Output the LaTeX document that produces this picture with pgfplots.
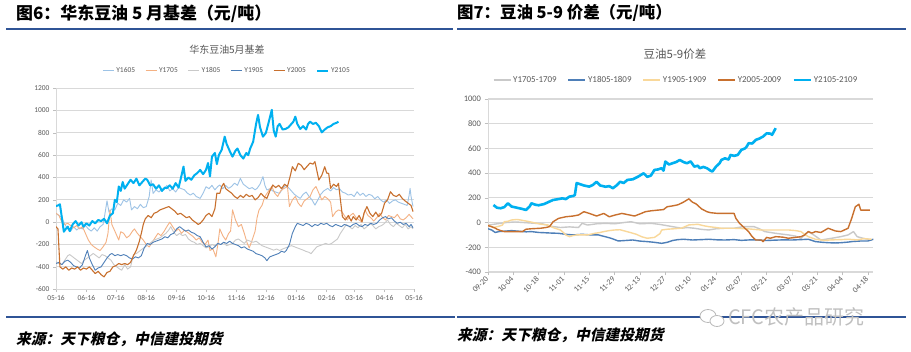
\documentclass[border=0pt]{standalone}
\usepackage{fontspec}
\setmainfont{Carlito}
\newfontfamily\cjk{Noto Sans CJK SC}
\newfontfamily\cjkit{Noto Sans CJK SC}[FakeSlant=0.22]
\usepackage{pgfplots}
\pgfplotsset{compat=1.18}
\definecolor{cGrid}{HTML}{D9D9D9}
\definecolor{cTick}{HTML}{BFBFBF}
\definecolor{cTxt}{HTML}{595959}
\definecolor{cRule}{HTML}{2F5496}
\definecolor{cA}{HTML}{9DC3E6}
\definecolor{cB}{HTML}{F4B183}
\definecolor{cC}{HTML}{C9C9C9}
\definecolor{cD}{HTML}{4E7FB8}
\definecolor{cE}{HTML}{C8702E}
\definecolor{cF}{HTML}{00B0F0}
\definecolor{cW}{HTML}{F9D89A}
\begin{document}
\begin{tikzpicture}
\useasboundingbox (0bp,0bp) rectangle (911bp,352bp);
\fill[white] (0bp,0bp) rectangle (911bp,352bp);
% rules
\draw[cRule, line width=2bp] (6bp,323bp) -- (453bp,323bp);
\draw[cRule, line width=2bp] (457bp,323bp) -- (906bp,323bp);
\draw[cRule, line width=2bp] (6bp,34.5bp) -- (455bp,34.5bp);
\draw[cRule, line width=2bp] (457bp,34.5bp) -- (906bp,34.5bp);
% headers
\node[anchor=west, inner sep=0pt, font=\cjk\bfseries\fontsize{17}{18}\selectfont] at (16bp,338bp) {图6：华东豆油 5 月基差（元/吨）};
\node[anchor=west, inner sep=0pt, font=\cjk\bfseries\fontsize{16.5}{18}\selectfont] at (457bp,339bp) {图7：豆油 5-9 价差（元/吨）};
% footers
\node[anchor=west, inner sep=0pt, font=\cjkit\bfseries\fontsize{14.8}{16}\selectfont] at (16bp,13bp) {来源：天下粮仓，中信建投期货};
\node[anchor=west, inner sep=0pt, font=\cjkit\bfseries\fontsize{14.8}{16}\selectfont] at (457bp,17bp) {来源：天下粮仓，中信建投期货};
% chart titles
\node[inner sep=0pt, text=cTxt, font=\cjk\fontsize{10}{11}\selectfont] at (227bp,302bp) {华东豆油5月基差};
\node[inner sep=0pt, text=cTxt, font=\cjk\fontsize{11.5}{12}\selectfont] at (675bp,298bp) {豆油5-9价差};

%% LEFT CHART
\begin{axis}[
 at={(56bp,62.8bp)}, anchor=south west, scale only axis, width=358bp, height=201bp,
 xmin=0, xmax=365, ymin=-600, ymax=1200,
 ytick={-600,-400,...,1200},
 xtick={0,31,61,92,123,153,184,214,245,276,304,335,365},
 xticklabels={05-16,06-16,07-16,08-16,09-16,10-16,11-16,12-16,01-16,02-16,03-16,04-16,05-16},
 axis x line*=bottom, axis y line*=left,
 axis line style={draw=cGrid, line width=0.8bp, -},
 ymajorgrids, major grid style={draw=cGrid, line width=0.8bp},
 tick style={draw=cTick, line width=0.6bp},
 major tick length=3bp, tick align=outside,
 ticklabel style={font=\fontsize{7.5}{8}\selectfont, text=cTxt},
 /pgf/number format/assume math mode=true,
 /pgf/number format/1000 sep={},
 legend style={at={(0.478,1.086)}, anchor=center, draw=none, fill=none,
   font=\fontsize{7.5}{8}\selectfont, text=cTxt, legend columns=6,
   /tikz/every even column/.append style={column sep=8bp}},
 legend image code/.code={\draw[#1] (0bp,0bp) -- (11bp,0bp);},
 every axis plot/.append style={line join=round, mark=none},
]
\addplot[cA, line width=0.9bp] coordinates {(0,80) (3,60) (6,40) (9,-20) (12,-60) (15,-80) (18,-40) (21,-70) (24,-50) (27,-60) (30,-30) (33,-60) (36,-80) (39,-50) (42,-80) (45,-40) (48,-20) (50,80) (52,192) (54,90) (57,120) (60,110) (63,170) (66,150) (69,200) (72,180) (75,213) (77,110) (80,140) (83,120) (86,160) (89,130) (92,140) (95,230) (97,378) (99,258) (102,290) (105,270) (108,300) (110,290) (113,330) (116,280) (119,300) (122,270) (125,310) (128,300) (131,290) (134,260) (137,243) (140,260) (143,230) (147,213) (150,260) (153,318) (156,300) (159,330) (162,290) (165,320) (167,333) (170,300) (173,330) (176,303) (179,320) (182,350) (185,330) (188,393) (191,340) (194,320) (197,300) (200,310) (203,290) (205,303) (208,340) (211,408) (213,330) (215,288) (218,300) (221,280) (224,270) (228,258) (231,300) (234,330) (237,310) (240,280) (243,250) (246,230) (249,213) (252,250) (255,270) (258,230) (261,200) (264,153) (267,200) (270,250) (273,280) (277,303) (280,280) (283,310) (286,290) (289,300) (292,270) (295,260) (298,243) (301,250) (304,230) (307,273) (310,240) (313,260) (316,230) (319,250) (322,240) (325,210) (328,230) (331,200) (334,180) (337,200) (340,168) (343,190) (346,200) (349,180) (352,170) (355,160) (358,150) (360,240) (361,303) (362,230) (364,140)};
\addlegendentry{Y1605}
\addplot[cB, line width=0.9bp] coordinates {(0,80) (3,60) (6,0) (9,-20) (12,-10) (15,-30) (18,-50) (21,-30) (24,-60) (27,-40) (30,-100) (33,-160) (36,-200) (39,-222) (42,-240) (45,-253) (48,-220) (51,-180) (53,-100) (55,110) (57,-22) (60,-80) (62,-120) (64,-160) (66,-85) (69,-100) (72,-140) (75,-120) (78,-80) (80,-60) (83,-100) (86,-130) (89,-160) (92,-200) (95,-222) (98,-180) (101,-140) (104,-100) (107,-120) (110,-85) (113,-40) (116,0) (119,-40) (122,-80) (125,-60) (128,-100) (131,-70) (134,-90) (137,-110) (140,-130) (143,-160) (146,-140) (149,-180) (152,-200) (155,-160) (157,-253) (160,-240) (163,-310) (165,-200) (167,-60) (170,-120) (173,-160) (176,-100) (178,-80) (180,110) (183,20) (186,-40) (189,-20) (192,-100) (195,-190) (197,-230) (200,-160) (203,-80) (205,40) (207,110) (210,150) (213,230) (216,270) (220,320) (223,260) (226,230) (229,280) (232,300) (236,318) (238,140) (241,200) (244,230) (247,170) (250,140) (253,190) (256,210) (259,230) (262,290) (265,320) (268,260) (271,200) (274,230) (277,210) (280,180) (282,50) (285,90) (288,110) (291,100) (294,60) (297,20) (300,60) (303,80) (306,40) (309,20) (312,0) (315,110) (318,60) (321,40) (324,10) (327,40) (330,80) (333,40) (336,20) (339,60) (342,50) (345,40) (348,70) (351,30) (354,20) (357,40) (360,70) (364,30)};
\addlegendentry{Y1705}
\addplot[cC, line width=0.9bp] coordinates {(0,-355) (3,-370) (6,-380) (9,-340) (12,-300) (14,-290) (17,-310) (20,-330) (23,-350) (26,-370) (29,-340) (32,-320) (35,-300) (38,-280) (41,-300) (44,-320) (47,-290) (50,-300) (53,-320) (56,-340) (59,-380) (62,-400) (65,-420) (67,-430) (70,-380) (73,-420) (76,-400) (79,-290) (82,-280) (85,-260) (88,-240) (91,-222) (94,-200) (97,-180) (100,-160) (103,-150) (106,-140) (109,-120) (112,-100) (115,-70) (117,-40) (120,-90) (123,-120) (126,-100) (129,-120) (132,-110) (135,-150) (138,-170) (141,-180) (144,-200) (147,-190) (150,-210) (153,-230) (156,-220) (159,-200) (162,-210) (165,-190) (168,-200) (171,-180) (174,-210) (177,-200) (180,-190) (183,-160) (186,-150) (189,-170) (192,-190) (195,-160) (198,-170) (201,-180) (204,-170) (207,-190) (210,-210) (213,-220) (216,-230) (219,-240) (222,-250) (225,-240) (228,-253) (231,-240) (234,-230) (237,-220) (240,-210) (243,-220) (246,-230) (249,-240) (252,-250) (255,-262) (258,-270) (260,-282) (263,-250) (266,-220) (269,-210) (272,-200) (275,-190) (278,-200) (281,-190) (284,-170) (287,-150) (290,-100) (293,-60) (296,-20) (299,-40) (302,-60) (305,-30) (308,-50) (311,-20) (314,-60) (317,-40) (320,-10) (323,-30) (326,-60) (329,-40) (332,-30) (335,-10) (338,20) (341,-20) (344,-40) (347,-10) (350,-30) (353,-50) (356,-20) (359,-60) (362,-40) (364,-60)};
\addlegendentry{Y1805}
\addplot[cD, line width=0.9bp] coordinates {(0,-370) (3,-360) (6,-380) (9,-350) (12,-340) (15,-360) (18,-390) (21,-400) (24,-410) (27,-380) (30,-300) (32,-253) (34,-320) (37,-380) (40,-430) (43,-410) (46,-400) (49,-360) (52,-320) (55,-290) (57,-280) (60,-300) (63,-290) (66,-300) (69,-290) (72,-300) (75,-320) (78,-330) (81,-310) (84,-320) (87,-300) (90,-230) (93,-190) (96,-200) (99,-180) (102,-170) (105,-160) (108,-150) (111,-130) (114,-140) (117,-110) (120,-100) (123,-60) (126,-40) (129,-60) (132,-80) (135,-70) (138,-90) (141,-100) (144,-120) (147,-130) (150,-180) (153,-222) (156,-210) (159,-240) (162,-220) (165,-190) (168,-200) (171,-180) (174,-190) (177,-170) (180,-190) (183,-200) (186,-210) (189,-230) (192,-220) (195,-240) (198,-250) (201,-260) (204,-282) (207,-290) (210,-300) (213,-320) (215,-345) (218,-310) (221,-300) (224,-290) (227,-280) (230,-260) (233,-270) (235,-250) (238,-200) (241,-100) (244,-40) (246,-10) (249,-20) (252,-30) (255,-10) (258,-20) (261,-40) (264,-20) (267,-30) (270,-10) (273,-20) (276,-10) (279,-30) (282,-40) (285,-20) (288,-30) (291,-40) (294,-20) (297,-30) (300,-40) (303,-20) (306,-10) (309,-30) (312,-40) (315,-20) (318,-30) (321,-10) (324,-20) (327,-10) (330,20) (333,40) (336,50) (339,30) (342,40) (345,10) (348,-10) (351,0) (354,-20) (357,-10) (360,-40) (362,-20) (364,-50)};
\addlegendentry{Y1905}
\addplot[cE, line width=1.1bp] coordinates {(0,-40) (2,-60) (4,-400) (7,-420) (10,-400) (13,-430) (16,-410) (19,-420) (22,-400) (25,-430) (28,-410) (31,-420) (34,-400) (37,-430) (40,-460) (43,-440) (46,-470) (49,-490) (52,-450) (55,-440) (58,-400) (61,-390) (64,-370) (67,-380) (70,-370) (73,-380) (76,-360) (79,-300) (82,-250) (85,-170) (87,-100) (89,-20) (91,30) (94,60) (97,40) (100,80) (103,90) (106,110) (109,120) (112,130) (115,140) (118,120) (121,100) (124,70) (127,80) (130,60) (133,40) (136,50) (139,20) (142,0) (145,-20) (147,-10) (150,20) (153,60) (156,80) (159,50) (162,120) (164,260) (167,258) (169,320) (171,348) (173,300) (176,280) (179,260) (182,230) (185,213) (188,240) (191,220) (194,250) (197,230) (200,240) (203,200) (206,220) (209,258) (212,230) (215,213) (218,280) (221,333) (224,310) (227,330) (230,300) (233,340) (236,320) (239,420) (241,497) (244,460) (247,527) (250,510) (253,470) (256,500) (259,530) (262,520) (264,542) (266,460) (268,378) (271,420) (274,497) (276,440) (278,437) (280,303) (283,340) (286,320) (288,348) (290,200) (292,50) (295,20) (298,60) (301,10) (303,50) (306,20) (309,60) (312,5) (314,80) (317,140) (320,80) (323,50) (326,90) (329,50) (332,80) (335,170) (338,200) (341,273) (344,240) (347,230) (350,250) (353,213) (356,190) (359,170) (362,150) (364,95)};
\addlegendentry{Y2005}
\addplot[cF, line width=2bp] coordinates {(0,145) (2,150) (4,160) (6,40) (8,-85) (10,-60) (12,-40) (14,-80) (17,-20) (20,10) (23,-30) (26,0) (28,-40) (31,-10) (34,-30) (37,10) (40,-10) (43,20) (46,10) (49,30) (52,-10) (55,60) (58,80) (60,200) (62,180) (64,320) (66,280) (68,360) (70,300) (73,340) (76,380) (79,350) (82,390) (85,330) (88,360) (91,390) (93,380) (96,330) (99,340) (102,300) (105,330) (108,280) (111,310) (113,305) (116,330) (119,300) (122,350) (125,310) (128,420) (130,498) (132,370) (135,400) (138,380) (141,420) (144,440) (147,468) (150,430) (153,470) (155,530) (157,410) (159,587) (162,620) (164,520) (166,600) (169,650) (172,766) (174,700) (177,640) (180,587) (183,640) (185,660) (188,600) (191,570) (194,620) (196,600) (198,660) (201,720) (204,880) (206,961) (208,850) (211,766) (214,800) (217,900) (220,1006) (222,820) (224,766) (226,860) (228,880) (231,830) (234,835) (237,850) (240,880) (242,900) (244,945) (246,880) (249,835) (252,860) (255,830) (257,880) (259,900) (262,880) (265,890) (268,860) (271,805) (274,830) (277,850) (280,860) (283,880) (286,890) (288,900)};
\addlegendentry{Y2105}
\end{axis}

%% RIGHT CHART
\begin{axis}[
 at={(488bp,80bp)}, anchor=south west, scale only axis, width=385.4bp, height=173bp,
 xmin=0, xmax=213, ymin=-400, ymax=1000,
 ytick={-400,-200,...,1000},
 xtick={0,14,...,210},
 xticklabels={09-20,10-04,10-18,11-01,11-15,11-29,12-13,12-27,01-10,01-24,02-07,02-21,03-07,03-21,04-04,04-18},
 axis x line*=bottom, axis y line*=left,
 axis line style={draw=cGrid, line width=1bp, -},
 ymajorgrids, major grid style={draw=cGrid, line width=1.2bp},
 tick style={draw=cTick, line width=0.7bp},
 major tick length=3.5bp, tick align=outside,
 ticklabel style={font=\fontsize{8.5}{9}\selectfont, text=cTxt},
 xticklabel style={font=\fontsize{8}{9}\selectfont, rotate=45, anchor=east, xshift=1bp, yshift=-1bp},
 /pgf/number format/assume math mode=true,
 /pgf/number format/1000 sep={},
 legend style={at={(0.488,1.11)}, anchor=center, draw=none, fill=none,
   font=\fontsize{9}{10}\selectfont, text=cTxt, legend columns=5,
   /tikz/every even column/.append style={column sep=9bp}},
 legend image code/.code={\draw[#1] (0bp,0bp) -- (17bp,0bp);},
 every axis plot/.append style={line join=round, mark=none},
]
\addplot[cC, line width=1.4bp] coordinates {(0,-20) (5,-10) (10,0) (15,5) (20,0) (25,-5) (30,-10) (35,-30) (40,-40) (45,-35) (50,-40) (52,-6) (55,-20) (60,-10) (65,-6) (70,-10) (75,0) (79,7) (84,-10) (90,-6) (95,-15) (102,-33) (107,-46) (110,-40) (114,-46) (118,-55) (122,-60) (126,-50) (131,-46) (136,-46) (141,-33) (147,-33) (150,-50) (153,-73) (159,-87) (166,-100) (170,-110) (173,-127) (177,-73) (180,-100) (184,-141) (190,-127) (195,-114) (199,-100) (202,-73) (204,-114) (208,-130) (212,-141)};
\addlegendentry{Y1705-1709}
\addplot[cD, line width=1.4bp] coordinates {(0,-50) (2,-60) (4,-80) (6,-73) (9,-70) (13,-65) (17,-70) (21,-75) (24,-73) (28,-80) (31,-82) (35,-85) (39,-87) (43,-95) (47,-100) (52,-95) (57,-100) (61,-100) (65,-115) (68,-127) (72,-149) (76,-145) (80,-141) (84,-150) (88,-154) (92,-160) (96,-168) (99,-160) (102,-145) (105,-138) (108,-135) (113,-141) (118,-138) (122,-135) (127,-140) (131,-141) (136,-138) (140,-144) (145,-140) (149,-141) (154,-145) (159,-142) (163,-140) (168,-141) (173,-138) (177,-135) (181,-154) (185,-160) (188,-163) (192,-165) (195,-163) (199,-158) (201,-154) (206,-149) (210,-149) (213,-135)};
\addlegendentry{Y1805-1809}
\addplot[cW, line width=1.4bp] coordinates {(0,-20) (3,-40) (6,-30) (8,-20) (9,7) (11,10) (13,21) (16,25) (18,21) (20,15) (22,10) (25,0) (27,-6) (30,-15) (33,-19) (35,-35) (37,-46) (40,-60) (42,-85) (43,-100) (45,-114) (47,-105) (49,-100) (52,-100) (55,-100) (59,-87) (62,-80) (64,-73) (67,-65) (70,-60) (73,-58) (76,-70) (79,-82) (82,-95) (85,-115) (88,-127) (92,-120) (95,-90) (96,-60) (99,-54) (103,-50) (107,-45) (111,-19) (116,-14) (119,-25) (122,-33) (126,-40) (129,-46) (136,-46) (143,-50) (151,-60) (159,-60) (166,-60) (170,-65) (173,-73) (175,-95) (177,-114) (181,-135) (186,-144) (190,-140) (195,-138) (199,-135) (204,-140) (208,-130) (212,-135)};
\addlegendentry{Y1905-1909}
\addplot[cE, line width=1.4bp] coordinates {(0,-25) (2,-33) (4,-45) (5,-54) (7,-65) (9,-73) (12,-73) (15,-73) (18,-73) (19,-73) (21,-54) (24,-50) (29,-46) (32,-40) (34,-33) (36,7) (39,34) (43,47) (47,53) (50,61) (53,88) (56,74) (60,53) (64,74) (67,47) (70,60) (74,74) (77,65) (81,53) (84,70) (87,88) (90,95) (94,101) (97,105) (99,128) (102,135) (105,144) (108,165) (111,192) (113,165) (115,151) (118,111) (121,88) (123,80) (127,74) (131,74) (136,74) (137,34) (139,-6) (141,-33) (144,-73) (146,-114) (148,-141) (151,-141) (152,-154) (154,-120) (156,-127) (159,-114) (163,-118) (166,-127) (170,-120) (173,-114) (175,-100) (177,-73) (179,-85) (181,-73) (184,-80) (188,-46) (192,-68) (195,-73) (199,-46) (201,34) (203,128) (205,148) (206,101) (208,101) (211,101)};
\addlegendentry{Y2005-2009}
\addplot[cF, line width=2.6bp] coordinates {(3,142) (5,120) (7,116) (9,125) (11,156) (13,130) (16,120) (19,110) (21,102) (23,130) (24,156) (26,145) (28,140) (31,150) (34,170) (36,183) (39,190) (41,196) (43,190) (45,210) (47,215) (48,223) (49,320) (51,310) (53,300) (56,291) (58,305) (60,330) (62,300) (65,290) (67,295) (69,278) (71,300) (73,330) (75,320) (77,345) (80,350) (83,372) (85,390) (86,399) (88,370) (90,380) (92,426) (94,430) (96,440) (97,420) (98,494) (100,470) (102,480) (104,490) (106,507) (108,490) (110,480) (112,495) (114,453) (116,460) (117,440) (119,450) (121,440) (123,420) (124,413) (126,453) (128,480) (129,507) (131,520) (133,510) (134,547) (136,540) (138,547) (140,588) (142,600) (143,615) (144,642) (146,640) (148,669) (150,680) (152,696) (154,722) (156,720) (157,710) (159,764)};
\addlegendentry{Y2105-2109}
\end{axis}

% watermark
\draw[gray!55, line width=0.8bp, fill=white] (708bp,36bp) ellipse (8bp and 6.5bp);
\draw[gray!55, line width=0.8bp, fill=white] (717bp,31bp) ellipse (7bp and 5.5bp);
\node[anchor=west, inner sep=0pt, text=gray!50, font=\cjk\fontsize{20}{21}\selectfont] at (728bp,35bp) {CFC农产品研究};
\end{tikzpicture}
\end{document}
